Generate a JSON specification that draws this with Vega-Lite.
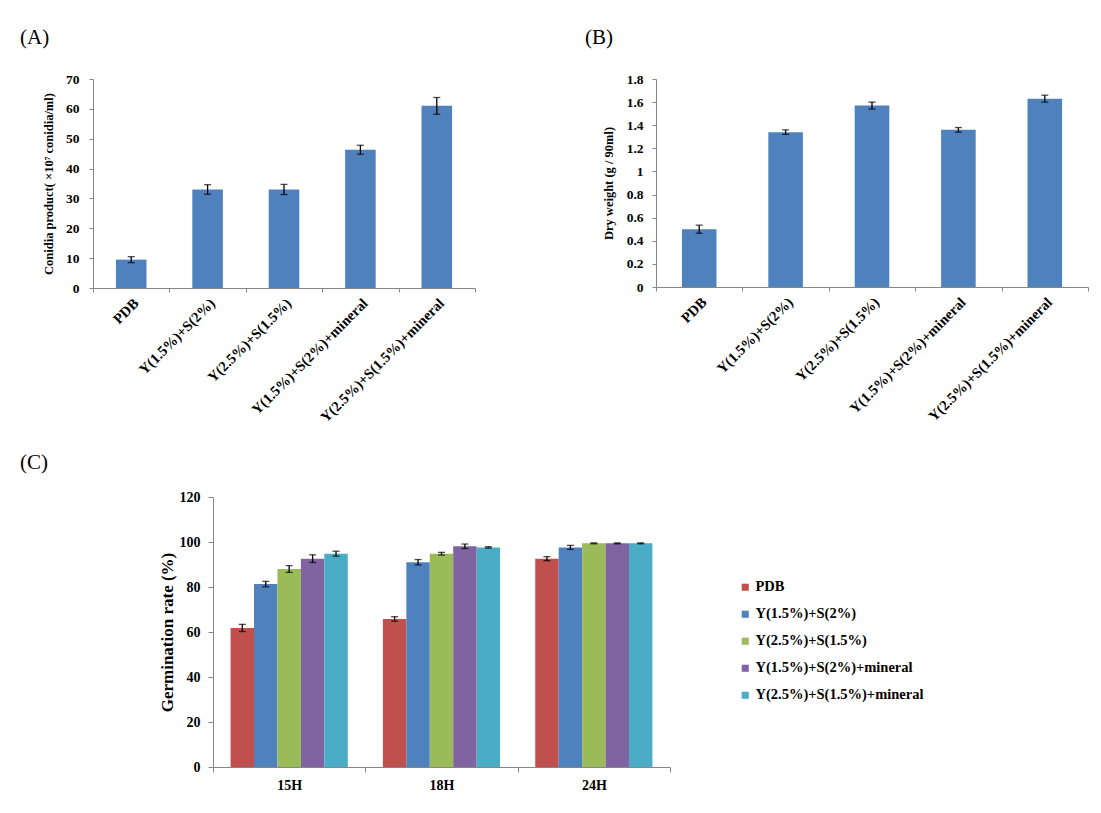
{
  "$schema": "https://vega.github.io/schema/vega-lite/v6.json",
  "padding": {"left": 20, "top": 27, "right": 5, "bottom": 5},
  "background": "white",
  "bounds": "flush",
  "resolve": {"scale": {"color": "independent"}, "legend": {"color": "independent"}},
  "config": {
    "font": "Liberation Serif",
    "view": {"stroke": null},
    "axis": {"grid": false, "domainColor": "#868686", "tickColor": "#868686", "labelFont": "Liberation Serif", "titleFont": "Liberation Serif", "labelFontWeight": "bold", "titleFontWeight": "bold", "labelColor": "#000", "titleColor": "#000", "tickSize": 4},
    "title": {"font": "Liberation Serif", "fontWeight": "normal", "fontSize": 21, "anchor": "start", "frame": "group", "color": "#000"}
  },
  "spacing": 418,
  "vconcat": [
    {
      "spacing": 181,
      "bounds": "flush",
      "hconcat": [
        {
          "title": {"text": "(A)", "dx": -73, "offset": 24},
          "width": 382,
          "height": 209,
          "data": {"values": [
            {"treatment": "PDB", "value": 9.5, "err": 1.0},
            {"treatment": "Y(1.5%)+S(2%)", "value": 33.0, "err": 1.6},
            {"treatment": "Y(2.5%)+S(1.5%)", "value": 33.0, "err": 1.7},
            {"treatment": "Y(1.5%)+S(2%)+mineral", "value": 46.3, "err": 1.5},
            {"treatment": "Y(2.5%)+S(1.5%)+mineral", "value": 61.0, "err": 2.8}
          ]},
          "encoding": {
            "x": {"field": "treatment", "type": "nominal", "sort": null, "scale": {"paddingInner": 0, "paddingOuter": 0}, "axis": {"title": null, "labelAngle": -45, "tickBand": "extent", "labelFontSize": 14.5, "labelPadding": 4, "labelLimit": 300}},
            "y": {"field": "value", "type": "quantitative", "scale": {"domain": [0, 70]}, "axis": {"title": "Conidia product( ×10⁷ conidia/ml)", "values": [0, 10, 20, 30, 40, 50, 60, 70], "labelFontSize": 13.5, "titleFontSize": 12.5, "labelPadding": 10, "titlePadding": 10}}
          },
          "layer": [
            {"mark": {"type": "bar", "color": "#4F81BD", "width": {"band": 0.4}}},
            {"mark": {"type": "errorbar", "color": "black", "thickness": 1.3, "ticks": {"size": 7}}, "encoding": {"yError": {"field": "err"}}}
          ]
        },
        {
          "title": {"text": "(B)", "dx": -71, "offset": 24},
          "width": 432,
          "height": 208,
          "data": {"values": [
            {"treatment": "PDB", "value": 0.50, "err": 0.035},
            {"treatment": "Y(1.5%)+S(2%)", "value": 1.34, "err": 0.02},
            {"treatment": "Y(2.5%)+S(1.5%)", "value": 1.57, "err": 0.03},
            {"treatment": "Y(1.5%)+S(2%)+mineral", "value": 1.36, "err": 0.02},
            {"treatment": "Y(2.5%)+S(1.5%)+mineral", "value": 1.63, "err": 0.03}
          ]},
          "encoding": {
            "x": {"field": "treatment", "type": "nominal", "sort": null, "scale": {"paddingInner": 0, "paddingOuter": 0}, "axis": {"title": null, "labelAngle": -45, "tickBand": "extent", "labelFontSize": 14.5, "labelPadding": 4, "labelLimit": 300}},
            "y": {"field": "value", "type": "quantitative", "scale": {"domain": [0, 1.8]}, "axis": {"title": "Dry weight (g / 90ml)", "values": [0, 0.2, 0.4, 0.6, 0.8, 1, 1.2, 1.4, 1.6, 1.8], "format": ".1~f", "labelFontSize": 13.5, "titleFontSize": 12.5, "labelPadding": 9, "titlePadding": 11}}
          },
          "layer": [
            {"mark": {"type": "bar", "color": "#4F81BD", "width": {"band": 0.4}}},
            {"mark": {"type": "errorbar", "color": "black", "thickness": 1.3, "ticks": {"size": 7}}, "encoding": {"yError": {"field": "err"}}}
          ]
        }
      ]
    },
    {
      "spacing": 20,
      "bounds": "flush",
      "resolve": {"scale": {"color": "independent"}, "legend": {"color": "independent"}},
      "hconcat": [
        {
          "width": 100,
          "height": 10,
          "data": {"values": []},
          "mark": {"type": "rect"},
          "encoding": {}
        },
        {
          "title": {"text": "(C)", "dx": -193, "offset": 17},
          "width": 457,
          "height": 270,
          "data": {"values": [
            {"time": "15H", "treatment": "PDB", "value": 61.8, "err": 1.6},
            {"time": "15H", "treatment": "Y(1.5%)+S(2%)", "value": 81.3, "err": 1.2},
            {"time": "15H", "treatment": "Y(2.5%)+S(1.5%)", "value": 88.0, "err": 1.5},
            {"time": "15H", "treatment": "Y(1.5%)+S(2%)+mineral", "value": 92.6, "err": 1.7},
            {"time": "15H", "treatment": "Y(2.5%)+S(1.5%)+mineral", "value": 94.8, "err": 1.1},
            {"time": "18H", "treatment": "PDB", "value": 65.8, "err": 1.0},
            {"time": "18H", "treatment": "Y(1.5%)+S(2%)", "value": 91.0, "err": 1.2},
            {"time": "18H", "treatment": "Y(2.5%)+S(1.5%)", "value": 94.8, "err": 0.6},
            {"time": "18H", "treatment": "Y(1.5%)+S(2%)+mineral", "value": 98.1, "err": 1.0},
            {"time": "18H", "treatment": "Y(2.5%)+S(1.5%)+mineral", "value": 97.6, "err": 0.3},
            {"time": "24H", "treatment": "PDB", "value": 92.6, "err": 0.9},
            {"time": "24H", "treatment": "Y(1.5%)+S(2%)", "value": 97.6, "err": 0.9},
            {"time": "24H", "treatment": "Y(2.5%)+S(1.5%)", "value": 99.4, "err": 0.2},
            {"time": "24H", "treatment": "Y(1.5%)+S(2%)+mineral", "value": 99.4, "err": 0.2},
            {"time": "24H", "treatment": "Y(2.5%)+S(1.5%)+mineral", "value": 99.4, "err": 0.2}
          ]},
          "encoding": {
            "x": {"field": "time", "type": "nominal", "sort": null, "scale": {"paddingInner": 0, "paddingOuter": 0}, "axis": {"title": null, "labelAngle": 0, "tickBand": "extent", "labelFontSize": 14, "labelPadding": 6, "tickSize": 5}},
            "xOffset": {"field": "treatment", "type": "nominal", "sort": null, "scale": {"paddingInner": 0, "paddingOuter": 0.75}},
            "y": {"field": "value", "type": "quantitative", "scale": {"domain": [0, 120]}, "axis": {"title": "Germination rate (%)", "values": [0, 20, 40, 60, 80, 100, 120], "labelFontSize": 14, "titleFontSize": 17, "labelPadding": 8, "titlePadding": 3, "tickSize": 5}}
          },
          "layer": [
            {"mark": {"type": "bar"}, "encoding": {"color": {"field": "treatment", "type": "nominal", "scale": {"domain": ["PDB", "Y(1.5%)+S(2%)", "Y(2.5%)+S(1.5%)", "Y(1.5%)+S(2%)+mineral", "Y(2.5%)+S(1.5%)+mineral"], "range": ["#C0504D", "#4F81BD", "#9BBB59", "#8064A2", "#4BACC6"]}, "legend": {"title": null, "orient": "none", "legendX": 525, "legendY": 83, "labelFont": "Liberation Serif", "labelFontSize": 14.5, "labelFontWeight": "bold", "labelColor": "#000", "labelLimit": 300, "symbolType": "square", "symbolSize": 50, "symbolStrokeWidth": 0, "rowPadding": 12, "labelOffset": 3}}}},
            {"mark": {"type": "errorbar", "color": "black", "thickness": 1.3, "ticks": {"size": 7}}, "encoding": {"yError": {"field": "err"}}}
          ]
        }
      ]
    }
  ]
}
